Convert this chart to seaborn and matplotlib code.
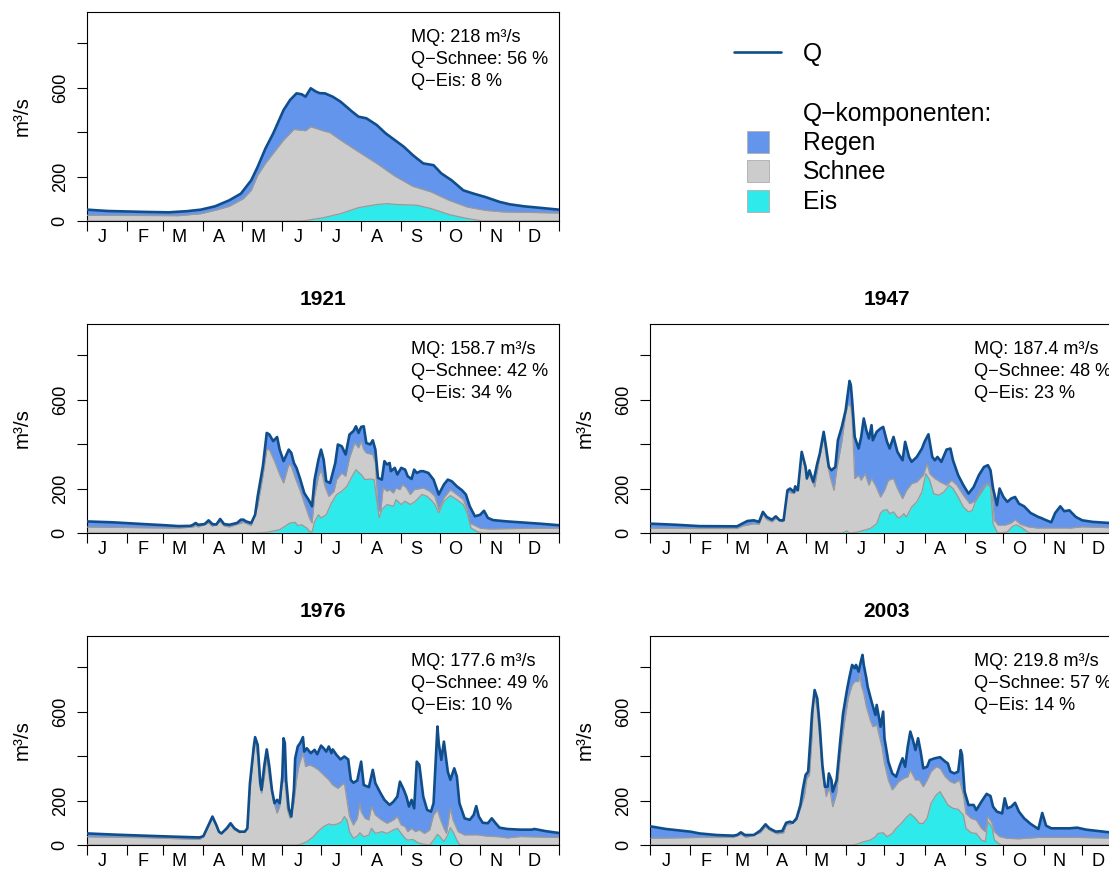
import matplotlib
matplotlib.use("Agg")
import matplotlib.pyplot as plt
import seaborn as sns
from matplotlib.patches import Rectangle
from matplotlib.lines import Line2D

# ---------------------------------------------------------------------------
# Daily discharge (day of year, m³/s). For each panel:
#   *_Q     total discharge Q (upper edge of the rain layer)
#   *_SNOW  upper edge of the snow layer (ice + snow, stacked)
#   *_ICE   upper edge of the ice layer
# ---------------------------------------------------------------------------
MEAN_Q = [(0, 51), (16, 45), (44, 41), (63, 39), (77, 44), (88, 51), (99, 66), (110, 93),
          (119, 123), (127, 183), (132, 244), (138, 326), (144, 394), (152, 499), (157, 544),
          (162, 574), (166, 570), (169, 559), (173, 597), (177, 582), (180, 575), (184, 574),
          (190, 559), (196, 537), (205, 492), (210, 469), (216, 462), (224, 432), (231, 394),
          (238, 364), (245, 334), (252, 296), (260, 259), (268, 251), (274, 214), (282, 183),
          (291, 138), (299, 123), (308, 108), (319, 86), (327, 75), (338, 66), (349, 60),
          (365, 51)]
MEAN_SNOW = [(0, 26), (71, 24), (88, 33), (99, 48), (110, 66), (121, 101), (127, 138),
             (132, 206), (138, 259), (144, 304), (152, 364), (160, 412), (169, 406), (173, 424),
             (183, 405), (188, 397), (196, 364), (210, 311), (224, 259), (238, 202), (252, 156),
             (266, 131), (280, 93), (294, 63), (308, 48), (322, 41), (365, 36)]
MEAN_ICE = [(0, 0), (166, 0), (170, 3), (183, 15), (196, 33), (210, 60), (224, 74), (232, 78),
            (240, 74), (255, 71), (266, 56), (280, 29), (294, 11), (306, 0), (365, 0)]

Q_1921 = [(0, 52), (20, 48), (44, 40), (60, 35), (71, 31), (80, 32), (82, 37), (84, 45), (86, 37),
          (91, 40), (94, 57), (97, 40), (100, 38), (103, 63), (106, 40), (110, 37), (116, 45),
          (119, 60), (121, 60), (123, 52), (127, 45), (130, 82), (132, 165), (136, 300), (139, 450),
          (141, 443), (144, 413), (147, 432), (149, 375), (152, 323), (156, 375), (158, 360),
          (160, 315), (162, 293), (165, 240), (168, 180), (172, 143), (174, 120), (176, 240),
          (179, 330), (181, 375), (183, 330), (185, 233), (188, 225), (192, 315), (194, 398),
          (197, 390), (200, 353), (203, 443), (206, 458), (208, 480), (210, 450), (212, 477),
          (214, 480), (216, 405), (219, 398), (221, 417), (223, 375), (225, 248), (228, 240),
          (230, 323), (232, 308), (234, 315), (235, 278), (238, 293), (240, 263), (243, 293),
          (246, 285), (248, 255), (251, 243), (253, 285), (255, 270), (258, 278), (260, 278),
          (264, 270), (268, 240), (272, 173), (276, 218), (279, 240), (282, 233), (286, 210),
          (290, 192), (293, 173), (296, 120), (300, 75), (304, 82), (307, 100), (310, 68),
          (314, 58), (325, 52), (335, 48), (350, 42), (365, 35)]
SNOW_1921 = [(0, 27), (40, 24), (71, 22), (82, 27), (84, 33), (86, 27), (94, 45), (97, 30),
             (103, 52), (106, 32), (110, 27), (121, 48), (127, 33), (132, 120), (136, 255),
             (139, 375), (141, 375), (145, 323), (149, 263), (152, 225), (156, 308), (158, 300),
             (161, 248), (165, 188), (168, 135), (172, 68), (174, 45), (176, 165), (179, 255),
             (181, 285), (184, 210), (187, 165), (191, 188), (193, 240), (197, 270), (200, 255),
             (203, 338), (207, 405), (210, 383), (212, 413), (214, 375), (216, 360), (221, 353),
             (223, 315), (225, 110), (227, 95), (229, 203), (232, 188), (234, 195), (237, 180),
             (239, 203), (242, 195), (244, 218), (247, 203), (250, 173), (253, 195), (256, 198),
             (260, 203), (265, 188), (269, 165), (272, 105), (276, 158), (281, 195), (286, 173),
             (291, 150), (294, 105), (296, 45), (304, 22), (311, 18), (330, 20), (365, 22)]
ICE_1921 = [(0, 0), (130, 0), (139, 3), (149, 15), (157, 45), (161, 48), (163, 33), (166, 37),
            (170, 22), (172, 8), (174, 3), (176, 52), (179, 82), (181, 68), (185, 82), (189, 135),
            (193, 173), (197, 188), (201, 210), (205, 255), (208, 285), (210, 273), (212, 263),
            (215, 240), (219, 243), (222, 240), (224, 150), (226, 68), (228, 105), (232, 128),
            (237, 120), (239, 150), (243, 128), (246, 143), (250, 128), (254, 143), (259, 173),
            (263, 165), (267, 143), (269, 128), (272, 90), (276, 143), (281, 168), (286, 150),
            (291, 128), (294, 90), (297, 22), (302, 5), (306, 0), (365, 0)]

Q_1947 = [(0, 42), (20, 37), (38, 31), (67, 30), (71, 42), (75, 54), (80, 57), (84, 50), (87, 95),
          (90, 72), (94, 60), (97, 75), (100, 57), (103, 57), (106, 192), (108, 200), (111, 185),
          (112, 210), (114, 192), (117, 365), (120, 297), (121, 245), (123, 282), (126, 230),
          (129, 312), (131, 357), (134, 455), (136, 380), (138, 297), (140, 282), (143, 297),
          (145, 417), (148, 477), (151, 552), (152, 597), (154, 684), (155, 665), (156, 597),
          (158, 432), (161, 380), (163, 432), (165, 515), (167, 462), (169, 425), (171, 485),
          (172, 417), (175, 455), (178, 470), (180, 477), (183, 410), (185, 380), (188, 432),
          (191, 365), (195, 327), (197, 410), (200, 342), (202, 320), (206, 342), (210, 380),
          (212, 410), (215, 444), (218, 342), (220, 327), (222, 342), (225, 320), (229, 375),
          (232, 380), (234, 327), (238, 260), (242, 215), (246, 177), (250, 207), (254, 260),
          (258, 297), (261, 305), (263, 282), (265, 200), (268, 125), (270, 200), (273, 162),
          (276, 140), (279, 155), (282, 162), (285, 132), (289, 120), (294, 90), (300, 72),
          (302, 68), (305, 60), (310, 48), (313, 90), (317, 120), (320, 98), (324, 102),
          (329, 72), (334, 57), (342, 50), (355, 45), (365, 42)]
SNOW_1947 = [(0, 22), (38, 20), (67, 20), (71, 31), (80, 42), (84, 39), (87, 84), (90, 60),
             (94, 50), (97, 65), (102, 50), (106, 185), (111, 177), (113, 192), (117, 357),
             (120, 282), (123, 260), (127, 207), (131, 342), (134, 432), (136, 342), (139, 252),
             (142, 192), (144, 282), (148, 410), (151, 537), (153, 582), (155, 567), (156, 522),
             (158, 245), (161, 260), (163, 237), (166, 267), (169, 215), (171, 245), (174, 215),
             (178, 162), (181, 192), (184, 237), (188, 245), (191, 200), (195, 155), (198, 192),
             (202, 222), (206, 230), (211, 260), (214, 312), (216, 267), (220, 245), (224, 230),
             (229, 215), (233, 237), (237, 215), (242, 170), (247, 132), (252, 147), (258, 200),
             (261, 225), (264, 192), (266, 57), (269, 35), (274, 35), (279, 45), (282, 60),
             (286, 40), (292, 28), (300, 22), (324, 22), (334, 28), (365, 22)]
ICE_1947 = [(0, 0), (148, 0), (152, 9), (154, 0), (160, 4), (165, 12), (170, 20), (175, 42),
            (178, 90), (180, 102), (183, 105), (185, 87), (188, 95), (191, 72), (193, 69),
            (196, 87), (198, 72), (202, 117), (206, 140), (210, 185), (213, 267), (216, 237),
            (219, 177), (223, 170), (227, 185), (231, 215), (234, 200), (238, 162), (242, 117),
            (246, 95), (249, 102), (252, 155), (256, 200), (260, 222), (263, 207), (265, 42),
            (268, 5), (270, 0), (276, 5), (280, 30), (283, 37), (287, 25), (292, 3), (295, 0),
            (365, 0)]

Q_1976 = [(0, 52), (20, 47), (44, 42), (70, 37), (87, 34), (90, 40), (94, 90), (97, 128),
          (100, 90), (102, 60), (104, 52), (108, 75), (111, 98), (114, 75), (118, 60), (122, 60),
          (124, 75), (126, 278), (129, 443), (130, 485), (132, 450), (134, 278), (135, 248),
          (137, 353), (139, 430), (141, 353), (143, 248), (145, 188), (147, 203), (149, 188),
          (151, 308), (152, 480), (153, 458), (154, 293), (156, 165), (158, 128), (160, 248),
          (161, 390), (163, 443), (165, 460), (167, 485), (168, 420), (170, 435), (173, 413),
          (176, 428), (178, 408), (181, 447), (183, 435), (185, 420), (187, 443), (189, 413),
          (190, 430), (193, 405), (196, 385), (199, 398), (202, 385), (204, 293), (206, 280),
          (209, 290), (212, 375), (214, 270), (218, 260), (221, 338), (223, 278), (227, 233),
          (230, 203), (234, 180), (237, 195), (240, 218), (242, 285), (245, 248), (247, 218),
          (249, 173), (251, 203), (253, 165), (255, 375), (257, 360), (260, 218), (263, 158),
          (266, 150), (268, 188), (271, 533), (272, 458), (274, 383), (276, 465), (279, 330),
          (281, 293), (284, 345), (286, 308), (288, 188), (292, 120), (296, 113), (299, 135),
          (301, 175), (303, 128), (306, 100), (310, 98), (313, 120), (316, 98), (319, 78),
          (325, 72), (335, 69), (344, 69), (346, 72), (355, 62), (365, 54)]
SNOW_1976 = [(0, 37), (44, 33), (87, 25), (90, 37), (94, 85), (97, 120), (100, 85), (103, 52),
             (108, 70), (111, 90), (114, 68), (118, 55), (123, 68), (126, 248), (129, 428),
             (130, 465), (132, 398), (134, 255), (135, 233), (137, 300), (139, 398), (141, 300),
             (144, 203), (147, 143), (149, 173), (151, 278), (153, 293), (155, 158), (157, 120),
             (160, 188), (162, 293), (164, 360), (167, 413), (169, 353), (172, 360), (175, 353),
             (179, 338), (183, 315), (187, 293), (190, 270), (194, 255), (197, 270), (199, 278),
             (201, 203), (203, 128), (206, 90), (209, 120), (211, 188), (212, 150), (215, 120),
             (218, 113), (220, 173), (223, 135), (227, 116), (232, 98), (237, 113), (240, 128),
             (243, 90), (246, 83), (248, 60), (251, 75), (254, 60), (257, 68), (261, 52),
             (265, 68), (268, 135), (271, 158), (273, 120), (276, 75), (278, 52), (281, 165),
             (283, 113), (287, 60), (292, 45), (303, 45), (309, 40), (319, 37), (325, 32),
             (335, 38), (365, 34)]
ICE_1976 = [(0, 0), (162, 0), (165, 3), (170, 15), (175, 37), (179, 63), (183, 83), (187, 95),
            (190, 90), (194, 95), (197, 105), (199, 128), (201, 113), (203, 60), (206, 30),
            (209, 40), (211, 55), (214, 37), (218, 45), (220, 75), (223, 52), (228, 60),
            (232, 52), (237, 68), (240, 75), (243, 52), (246, 30), (248, 22), (252, 25),
            (256, 10), (260, 4), (265, 0), (268, 22), (271, 48), (273, 37), (276, 15), (279, 45),
            (281, 78), (283, 60), (286, 22), (288, 3), (291, 0), (365, 0)]

Q_2003 = [(0, 84), (12, 72), (31, 60), (38, 52), (51, 45), (64, 42), (67, 45), (70, 57), (73, 45),
          (80, 45), (85, 65), (89, 93), (92, 75), (97, 60), (102, 63), (105, 100), (108, 105),
          (110, 100), (113, 120), (116, 180), (118, 255), (120, 315), (122, 330), (124, 502),
          (125, 592), (127, 697), (129, 660), (131, 532), (133, 360), (135, 262), (137, 262),
          (138, 322), (140, 292), (141, 240), (144, 292), (147, 480), (149, 592), (152, 697),
          (154, 757), (156, 810), (158, 795), (159, 810), (161, 780), (163, 832), (164, 855),
          (165, 810), (167, 750), (168, 712), (171, 645), (174, 585), (175, 630), (178, 532),
          (180, 600), (181, 480), (184, 375), (187, 322), (190, 307), (193, 360), (195, 390),
          (197, 352), (199, 442), (201, 510), (203, 472), (205, 427), (207, 480), (209, 420),
          (211, 345), (214, 352), (216, 382), (220, 390), (224, 395), (228, 375), (230, 367),
          (232, 330), (235, 322), (238, 330), (240, 427), (241, 405), (243, 240), (246, 180),
          (250, 180), (252, 157), (256, 195), (260, 230), (263, 220), (265, 172), (268, 150),
          (272, 142), (274, 210), (276, 165), (279, 172), (282, 190), (285, 150), (289, 120),
          (294, 95), (300, 72), (303, 144), (306, 87), (310, 75), (324, 75), (330, 78),
          (337, 69), (355, 57), (365, 55)]
SNOW_2003 = [(0, 30), (38, 34), (64, 34), (70, 48), (74, 34), (85, 55), (89, 82), (92, 67),
             (98, 50), (103, 55), (105, 90), (109, 95), (113, 112), (116, 165), (119, 218),
             (121, 300), (123, 315), (125, 488), (126, 652), (127, 675), (129, 608), (131, 472),
             (133, 322), (136, 218), (138, 255), (139, 240), (141, 172), (144, 232), (147, 412),
             (150, 548), (153, 660), (156, 720), (158, 735), (161, 735), (162, 772), (163, 720),
             (165, 682), (167, 622), (170, 562), (172, 532), (175, 540), (179, 442), (181, 367),
             (184, 292), (187, 248), (189, 262), (192, 285), (196, 300), (199, 307), (201, 337),
             (205, 292), (208, 292), (211, 262), (214, 292), (217, 330), (221, 352), (224, 345),
             (228, 307), (232, 285), (235, 278), (239, 292), (242, 225), (244, 142), (248, 120),
             (252, 112), (256, 75), (259, 60), (261, 128), (264, 100), (266, 60), (270, 38),
             (276, 30), (285, 28), (300, 34), (330, 34), (365, 30)]
ICE_2003 = [(0, 0), (156, 0), (160, 4), (165, 15), (170, 22), (174, 37), (176, 52), (180, 55),
            (183, 37), (187, 52), (190, 75), (194, 97), (198, 125), (201, 140), (205, 120),
            (208, 97), (211, 97), (214, 120), (217, 188), (221, 225), (224, 240), (226, 220),
            (230, 180), (234, 165), (238, 160), (242, 135), (244, 75), (248, 55), (252, 52),
            (256, 22), (259, 15), (261, 105), (264, 82), (266, 22), (270, 4), (272, 0), (365, 0)]

# Panel headings and summary statistics (mean discharge, snow share, ice share)
TITLES = ["", "1921", "1947", "1976", "2003"]
MQ = [218, 158.7, 187.4, 177.6, 219.8]
SHARE_SNOW = [56, 42, 48, 49, 57]
SHARE_ICE = [8, 34, 23, 10, 14]

MONTHS = ["J", "F", "M", "A", "M", "J", "J", "A", "S", "O", "N", "D"]
MONTH_STARTS = [0, 31, 59, 90, 120, 151, 181, 212, 243, 273, 304, 334]

# Colours
C_REGEN = "#6495ED"
C_SCHNEE = "#CCCCCC"
C_EIS = "#2EEAEA"
C_Q = "#104E8B"
C_EDGE = "#999999"

sns.set_style("ticks", {"axes.edgecolor": "black", "xtick.color": "black",
                        "ytick.color": "black", "text.color": "black",
                        "axes.labelcolor": "black"})
plt.rcParams["font.family"] = ["Liberation Sans", "DejaVu Sans"]

W, H = 1109, 869
FS = 13.1
FS_LAB = 14.8
fig = plt.figure(figsize=(W / 100, H / 100), dpi=100)


def add_box(x0, ytop, w=472, h=209):
    return fig.add_axes([x0 / W, 1 - (ytop + h) / H, w / W, h / H])


def split(pairs):
    return [p[0] for p in pairs], [p[1] for p in pairs]


def draw_panel(ax, q, snow, ice, title, mq, p_snow, p_ice):
    qd, qv = split(q)
    sd, sv = split(snow)
    idd, iv = split(ice)

    blue = ax.fill_between(qd, 0, qv, color=C_REGEN, lw=0, zorder=1)
    q_path = blue.get_paths()[0]
    gray = ax.fill_between(sd, 0, sv, color=C_SCHNEE, lw=0, zorder=2)
    gray.set_clip_path(q_path, ax.transData)
    cyan = ax.fill_between(idd, 0, iv, color=C_EIS, lw=0, zorder=3)
    cyan.set_clip_path(gray.get_paths()[0], ax.transData)

    sns.lineplot(x=sd, y=sv, ax=ax, color=C_EDGE, lw=0.9, zorder=4)
    ax.lines[-1].set_clip_path(q_path, ax.transData)
    sns.lineplot(x=idd, y=iv, ax=ax, color=C_EDGE, lw=0.9, zorder=4)
    ax.lines[-1].set_clip_path(q_path, ax.transData)
    sns.lineplot(x=qd, y=qv, ax=ax, color=C_Q, lw=1.9, zorder=5)

    ax.set_xlim(0, 365)
    ax.set_ylim(0, 940)
    ax.set_xlabel("")
    ax.set_ylabel("")

    ax.set_yticks([0, 200, 400, 600, 800])
    ax.set_yticklabels(["0", "200", "", "600", ""], rotation=90, va="center")
    ax.tick_params(axis="y", length=7.2, width=0.8, pad=6, labelsize=FS)

    ax.set_xticks(MONTH_STARTS + [365])
    ax.set_xticklabels([])
    ax.set_xticks([s + 12 for s in MONTH_STARTS], minor=True)
    ax.set_xticklabels(MONTHS, minor=True)
    ax.tick_params(axis="x", which="major", length=7.2, width=0.8)
    ax.tick_params(axis="x", which="minor", length=0, pad=5.5, labelsize=FS)
    for sp in ax.spines.values():
        sp.set_linewidth(0.8)
        sp.set_color("black")

    ax.text(-65.3 / 472, 0.5, "m³/s", transform=ax.transAxes, rotation=90,
            ha="center", va="center", fontsize=FS_LAB)

    lines = [f"MQ: {mq:g} m³/s", f"Q−Schnee: {p_snow} %", f"Q−Eis: {p_ice} %"]
    for k, txt in enumerate(lines):
        ax.text(324 / 472, 1 - (26 + 21.8 * k) / 209, txt, transform=ax.transAxes,
                ha="left", va="center", fontsize=FS, zorder=6)
    if title:
        ax.set_title(title, fontsize=15, fontweight="bold", pad=14)


SERIES = [(MEAN_Q, MEAN_SNOW, MEAN_ICE), (Q_1921, SNOW_1921, ICE_1921),
          (Q_1947, SNOW_1947, ICE_1947), (Q_1976, SNOW_1976, ICE_1976),
          (Q_2003, SNOW_2003, ICE_2003)]
BOXES = [(87, 12), (87, 324), (650.4, 324), (87, 636), (650.4, 636)]

for i, ((q, s, e), (bx, by)) in enumerate(zip(SERIES, BOXES)):
    ax = add_box(bx, by)
    draw_panel(ax, q, s, e, TITLES[i], MQ[i], SHARE_SNOW[i], SHARE_ICE[i])

# Legend (top right)
LFS = 17.7


def fx(x):
    return x / W


def fy(y):
    return 1 - y / H


fig.add_artist(Line2D([fx(734.3), fx(781)], [fy(51.7), fy(51.7)], color=C_Q, lw=1.9))
fig.text(fx(803.3), fy(53.5), "Q", ha="left", va="center", fontsize=LFS)
fig.text(fx(803.3), fy(114.5), "Q−komponenten:", ha="left", va="center", fontsize=LFS)
for label, col, ytop in [("Regen", C_REGEN, 130.7), ("Schnee", C_SCHNEE, 160.0),
                         ("Eis", C_EIS, 190.0)]:
    fig.add_artist(Rectangle((fx(746.7), fy(ytop + 22)), 22.3 / W, 22 / H,
                             facecolor=col, edgecolor="#B4B4B4", lw=0.7,
                             transform=fig.transFigure))
    fig.text(fx(803.3), fy(ytop + 12.3), label, ha="left", va="center", fontsize=LFS)

fig.savefig("out.png", dpi=100)
